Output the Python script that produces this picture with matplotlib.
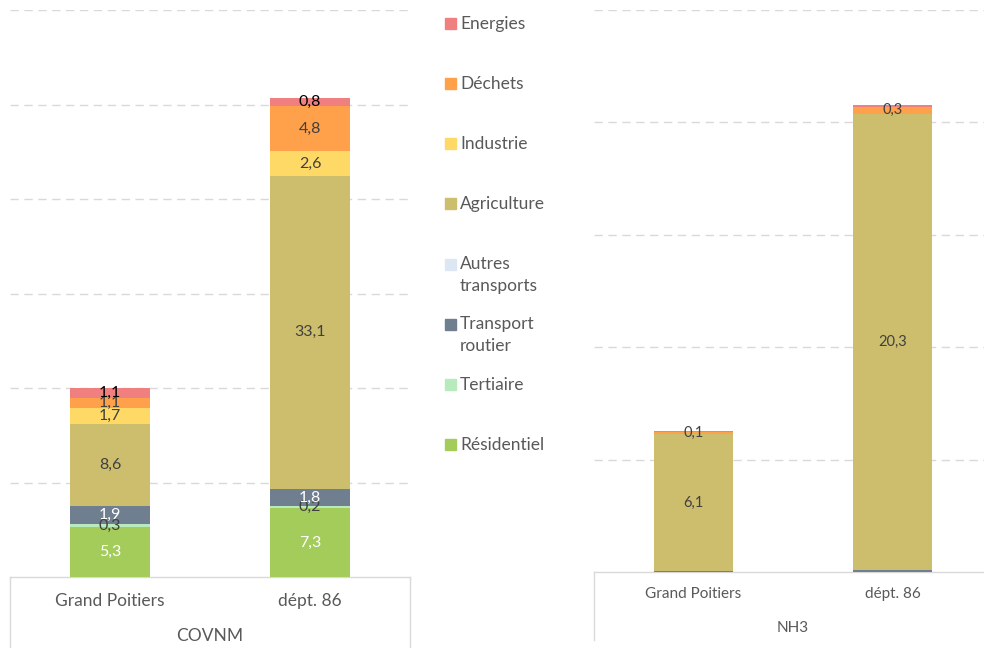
import matplotlib
matplotlib.use("Agg")
import matplotlib.pyplot as plt
from matplotlib.lines import Line2D
from matplotlib.patches import Rectangle

plt.rcParams['font.family'] = ['Lato', 'DejaVu Sans']

categories = ["Grand Poitiers", "dépt. 86"]
sectors = ["Résidentiel", "Tertiaire", "Transport routier", "Autres transports",
           "Agriculture", "Industrie", "Déchets", "Energies"]
colors = ["#A3CC5B", "#B7EBBD", "#6F7F8F", "#DCE7F3",
          "#CDBE6E", "#FFD966", "#FFA14A", "#F08080"]

# COVNM values per sector (Grand Poitiers, dépt. 86)
covnm = {
    "Résidentiel": [5.3, 7.3],
    "Tertiaire": [0.3, 0.2],
    "Transport routier": [1.9, 1.8],
    "Autres transports": [0.05, 0.05],
    "Agriculture": [8.6, 33.1],
    "Industrie": [1.7, 2.6],
    "Déchets": [1.1, 4.8],
    "Energies": [1.1, 0.8],
}
# NH3 values per sector
nh3 = {
    "Résidentiel": [0.0, 0.0],
    "Tertiaire": [0.0, 0.0],
    "Transport routier": [0.04, 0.09],
    "Autres transports": [0.0, 0.0],
    "Agriculture": [6.1, 20.3],
    "Industrie": [0.0, 0.0],
    "Déchets": [0.1, 0.3],
    "Energies": [0.05, 0.08],
}

W, H = 984, 648
fig = plt.figure(figsize=(W / 100, H / 100), dpi=100)

white_lbl = {"Résidentiel", "Transport routier"}
grid_c = "#D9D9D9"
txt_c = "#595959"


def draw(ax, data, ymax, step, label_fs):
    bottoms = [0.0, 0.0]
    for s, c in zip(sectors, colors):
        vals = data[s]
        ax.bar(range(len(categories)), vals, width=0.4, bottom=bottoms, color=c,
               linewidth=0, zorder=3)
        for i, v in enumerate(vals):
            if v >= 0.1:
                col = "white" if s in white_lbl else ("black" if s == "Energies" else "#404040")
                ax.text(i, bottoms[i] + v / 2, f"{v:.1f}".replace(".", ","),
                        ha="center", va="center", fontsize=label_fs, color=col, zorder=4)
        bottoms = [b + v for b, v in zip(bottoms, vals)]
    ax.set_xlim(-0.5, 1.5)
    ax.set_ylim(0, ymax)
    ax.set_yticks([step * k for k in range(1, int(ymax / step) + 1)])
    ax.yaxis.grid(True, color=grid_c, linestyle=(0, (6, 4)), linewidth=1, zorder=0)
    ax.tick_params(axis="y", left=False, labelleft=False)
    ax.tick_params(axis="x", bottom=False, labelbottom=False)
    for sp in ["top", "right", "left"]:
        ax.spines[sp].set_visible(False)
    ax.spines["bottom"].set_color(grid_c)
    ax.spines["bottom"].set_linewidth(1)


def cat_labels(ax, h_px, tick_off, name, name_off, fs):
    tr = ax.get_xaxis_transform()
    for i, c in enumerate(categories):
        ax.text(i, -tick_off / h_px, c, transform=tr, ha="center", va="center",
                fontsize=fs, color=txt_c, clip_on=False)
    ax.text(0.5, -name_off / h_px, name, transform=ax.transAxes, ha="center",
            va="center", fontsize=fs, color=txt_c, clip_on=False)


# Left panel: COVNM
hL = 567
axL = fig.add_axes([10 / W, (H - 577) / H, 400 / W, hL / H])
draw(axL, covnm, 60, 10, 11.5)
cat_labels(axL, hL, 24, "COVNM", 59, 12.5)
for x in (10, 410):
    fig.add_artist(Line2D([x / W, x / W], [0, (H - 577) / H], color=grid_c, lw=1,
                          transform=fig.transFigure))

# Right panel: NH3
hR = 562
axR = fig.add_axes([594 / W, (H - 572) / H, 398 / W, hR / H])
draw(axR, nh3, 25, 5, 10.5)
cat_labels(axR, hR, 22, "NH3", 56, 11)
fig.add_artist(Line2D([594 / W, 594 / W], [(H - 640) / H, (H - 572) / H], color=grid_c, lw=1,
                      transform=fig.transFigure))

# Legend (top to bottom)
legend_items = [
    ("Energies", 24), ("Déchets", 84), ("Industrie", 144), ("Agriculture", 204),
    ("Autres\ntransports", 275), ("Transport\nroutier", 335), ("Tertiaire", 385),
    ("Résidentiel", 445),
]
leg_colors = dict(zip(sectors, colors))
leg_keys = ["Energies", "Déchets", "Industrie", "Agriculture", "Autres transports",
            "Transport routier", "Tertiaire", "Résidentiel"]
for (lbl, y), key in zip(legend_items, leg_keys):
    ymark = y - 1 if "\n" not in lbl else y - 11
    fig.add_artist(Rectangle((445 / W, (H - ymark - 5.5) / H), 11 / W, 11 / H,
                             color=leg_colors[key], transform=fig.transFigure))
    fig.text(460 / W, (H - y) / H, lbl, fontsize=12.5, color=txt_c, va="center", ha="left",
             linespacing=1.45)

fig.savefig("out.png", dpi=100)
